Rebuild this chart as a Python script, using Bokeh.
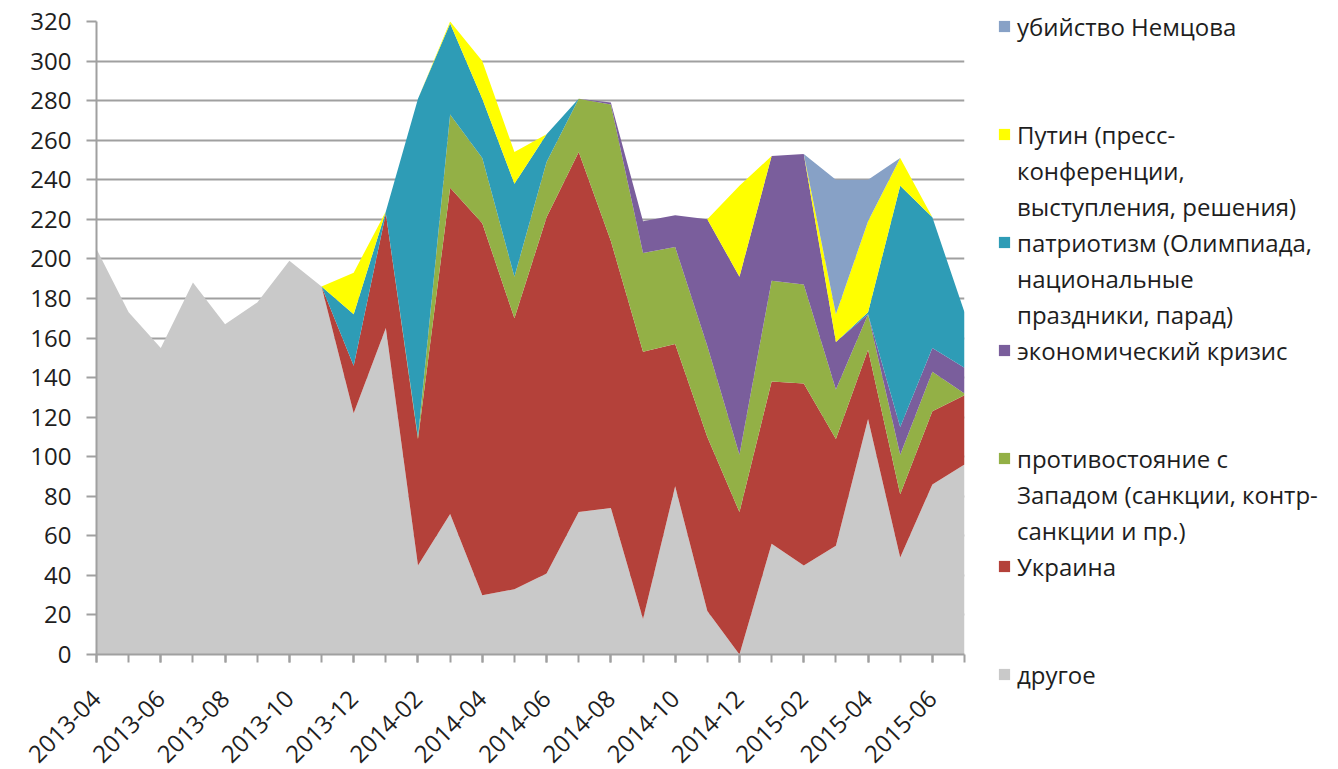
import math
from bokeh.plotting import figure
from bokeh.models import Range1d, FixedTicker, ColumnDataSource, Legend, LegendItem
from bokeh.embed import file_html
from bokeh.resources import INLINE
from bokeh.core.properties import value

# ---------------- data ----------------
months = ["2013-04", "2013-05", "2013-06", "2013-07", "2013-08", "2013-09", "2013-10",
          "2013-11", "2013-12", "2014-01", "2014-02", "2014-03", "2014-04", "2014-05",
          "2014-06", "2014-07", "2014-08", "2014-09", "2014-10", "2014-11", "2014-12",
          "2015-01", "2015-02", "2015-03", "2015-04", "2015-05", "2015-06", "2015-07"]

other   = [205, 173, 155, 188, 167, 178, 199, 186, 122, 165, 45, 71, 30, 33, 41, 72, 74, 18, 85, 22, 0, 56, 45, 55, 119, 49, 86, 96]
ukraine = [0, 0, 0, 0, 0, 0, 0, 0, 24, 58, 64, 165, 188, 137, 180, 182, 135, 135, 72, 88, 72, 82, 92, 54, 35, 32, 37, 35]
west    = [0, 0, 0, 0, 0, 0, 0, 0, 0, 0, 1, 37, 33, 21, 28, 27, 69, 50, 49, 46, 29, 51, 50, 25, 18, 20, 20, 1]
crisis  = [0, 0, 0, 0, 0, 0, 0, 0, 0, 0, 0, 0, 0, 0, 0, 0, 1, 16, 16, 64, 90, 63, 66, 24, 0, 14, 12, 13]
patriot = [0, 0, 0, 0, 0, 0, 0, 0, 26, 1, 171, 46, 30, 47, 14, 0, 0, 0, 0, 0, 0, 0, 0, 0, 1, 122, 66, 28]
putin   = [0, 0, 0, 0, 0, 0, 0, 0, 21, 0, 0, 1, 19, 16, 0, 0, 0, 0, 0, 0, 46, 0, 0, 14, 46, 14, 0, 0]
nemtsov = [0, 0, 0, 0, 0, 0, 0, 0, 0, 0, 0, 0, 0, 0, 0, 0, 0, 0, 0, 0, 0, 0, 0, 68, 21, 0, 0, 0]

series_keys = ["other", "ukraine", "west", "crisis", "patriot", "putin", "nemtsov"]
series_vals = [other, ukraine, west, crisis, patriot, putin, nemtsov]
series_colors = ["#c9c9c9", "#b4413a", "#93b046", "#7a5e9c", "#2e9cb6", "#ffff00", "#87a1c6"]

# legend labels, bottom-to-top order of the stack (one list of lines per series)
legend_labels = [
    ["другое"],
    ["Украина"],
    ["противостояние с", "Западом (санкции, контр-", "санкции и пр.)"],
    ["экономический кризис"],
    ["патриотизм (Олимпиада,", "национальные", "праздники, парад)"],
    ["Путин (пресс-", "конференции,", "выступления, решения)"],
    ["убийство Немцова"],
]

y_ticks = list(range(0, 321, 20))

# ---------------- chart ----------------
x = list(range(len(months)))
data = {"x": x}
for k, v in zip(series_keys, series_vals):
    data[k] = v
src = ColumnDataSource(data)

FONT = "Open Sans"
TXT = "#1e1e1e"
AXC = "#a0a0a0"

FRAME_W, FRAME_H = 868, 633
LEFT, TOP, RIGHT, BOTTOM = 96, 21, 366, 112

p = figure(output_backend="svg", toolbar_location=None,
           frame_width=FRAME_W, frame_height=FRAME_H,
           x_range=Range1d(0, len(months) - 1), y_range=Range1d(0, 320),
           min_border_left=LEFT, min_border_right=RIGHT,
           min_border_top=TOP, min_border_bottom=BOTTOM)
p.outline_line_color = None
p.background_fill_color = "white"
p.border_fill_color = "white"

renderers = p.varea_stack(stackers=series_keys, x="x", color=series_colors, source=src)
blank = p.scatter(x=[], y=[], fill_alpha=0, line_alpha=0)

# x axis
p.xaxis.ticker = FixedTicker(ticks=x[::2], minor_ticks=x)
p.xaxis.major_label_overrides = {i: months[i] for i in x[::2]}
p.xaxis.major_label_orientation = math.pi / 4
p.xaxis.major_tick_out = 8
p.xaxis.major_tick_in = 0
p.xaxis.minor_tick_out = 8
p.xaxis.minor_tick_in = 0
p.xaxis.major_label_standoff = 32
p.xgrid.visible = False

# y axis
p.yaxis.ticker = FixedTicker(ticks=y_ticks)
p.yaxis.major_tick_out = 10
p.yaxis.major_tick_in = 0
p.yaxis.minor_tick_line_color = None
p.yaxis.major_label_standoff = 15
p.ygrid.grid_line_color = AXC
p.ygrid.grid_line_width = 2

for ax in (p.xaxis, p.yaxis):
    ax.axis_line_color = AXC
    ax.axis_line_width = 2
    ax.major_tick_line_color = AXC
    ax.major_tick_line_width = 2
    ax.minor_tick_line_width = 2
    ax.major_label_text_font = FONT
    ax.major_label_text_font_size = "24px"
    ax.major_label_text_color = TXT
p.xaxis.minor_tick_line_color = AXC

# ---------------- legend: 7 equal slots of 3 rows each ----------------
ROW = 36
items = []
for r, lines in zip(reversed(renderers), reversed(legend_labels)):
    slot = list(lines) + [" "] * (3 - len(lines))
    for j, line in enumerate(slot):
        items.append(LegendItem(label=value(line), renderers=[r if j == 0 else blank]))

n_rows = len(items)
legend_top_page = 8
loc_x = 997 - (LEFT + FRAME_W)
loc_y = (TOP + FRAME_H) - legend_top_page - n_rows * ROW

legend = Legend(items=items, location=(loc_x, loc_y),
                orientation="vertical", spacing=0, padding=0, margin=0,
                glyph_width=14, glyph_height=14, label_height=ROW, label_standoff=6,
                label_text_font=FONT, label_text_font_size="24px", label_text_color=TXT,
                border_line_color=None, background_fill_alpha=0)
p.add_layout(legend, "right")

open("out.html", "w").write(file_html(p, INLINE))
